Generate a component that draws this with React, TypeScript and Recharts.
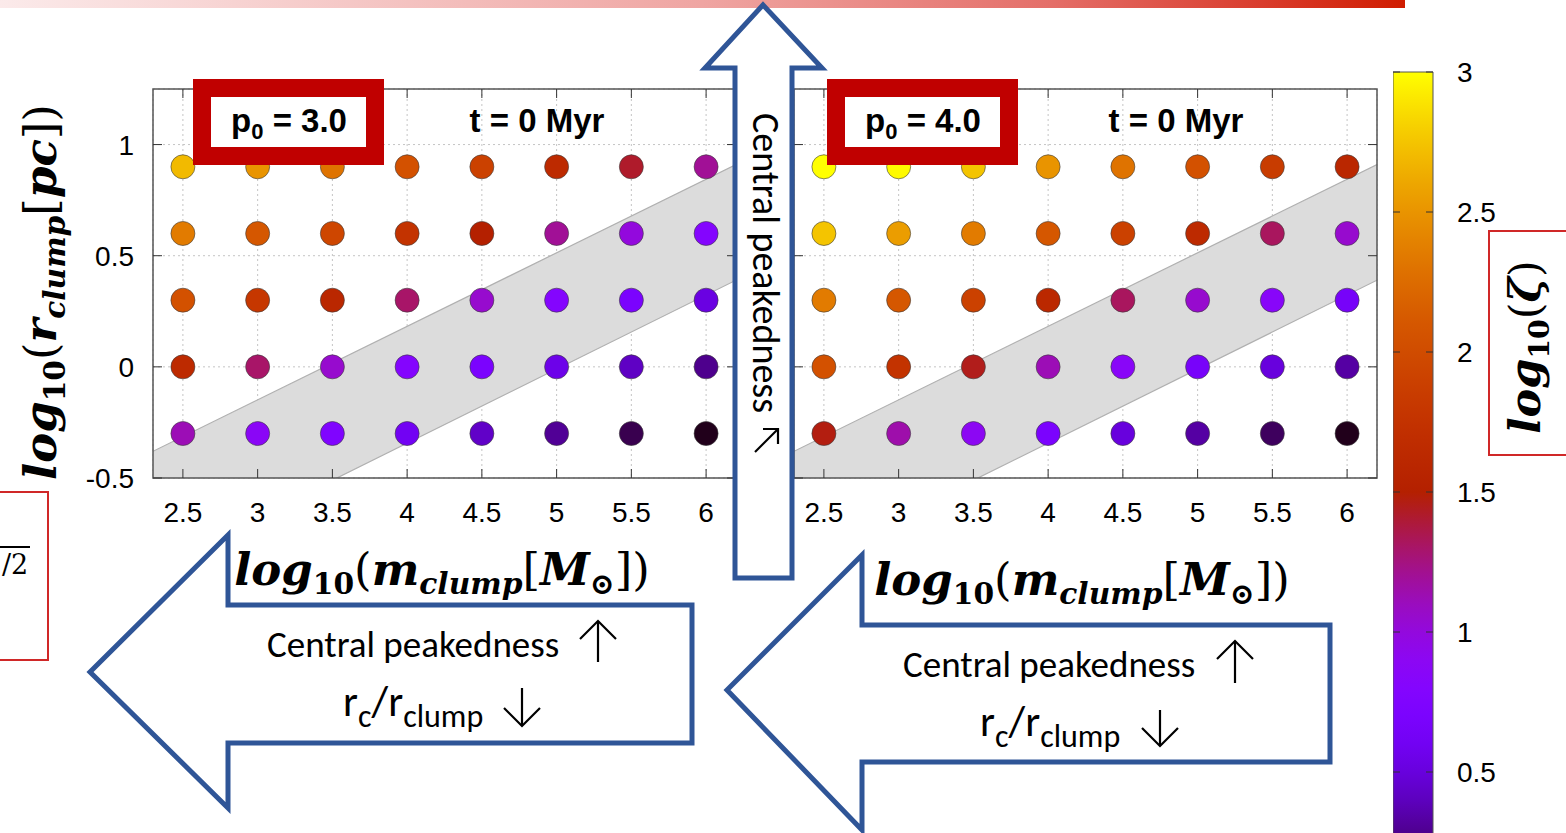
import React from "react";
import {
  Area,
  Bar,
  BarChart,
  CartesianGrid,
  ComposedChart,
  ReferenceArea,
  Scatter,
  XAxis,
  YAxis,
} from "recharts";

// grid of models: log10(m_clump) columns, log10(r_clump) rows
const massTicks = [2.5, 3, 3.5, 4, 4.5, 5, 5.5, 6];
const radiusRows = [0.9, 0.6, 0.3, 0, -0.3];
const yTicks = [-0.5, 0, 0.5, 1];
const cbTicks = [0.5, 1, 1.5, 2, 2.5, 3];

// log10(zeta), rows top -> bottom, columns left -> right
const zetaP3 = [
  [2.7, 2.5, 2.3, 2.05, 1.9, 1.65, 1.42, 1.2],
  [2.35, 2.1, 1.95, 1.75, 1.5, 1.2, 1.0, 0.8],
  [2.05, 1.8, 1.6, 1.3, 1.05, 0.8, 0.7, 0.52],
  [1.65, 1.3, 1.05, 0.8, 0.7, 0.55, 0.42, 0.28],
  [1.12, 0.88, 0.76, 0.6, 0.43, 0.3, 0.15, 0.05],
];
const zetaP4 = [
  [3.0, 2.98, 2.75, 2.5, 2.3, 2.05, 1.85, 1.6],
  [2.75, 2.55, 2.35, 2.1, 1.9, 1.65, 1.32, 1.05],
  [2.35, 2.1, 1.9, 1.62, 1.32, 1.05, 0.85, 0.65],
  [2.05, 1.75, 1.45, 1.12, 0.86, 0.66, 0.5, 0.33],
  [1.47, 1.15, 0.9, 0.7, 0.5, 0.33, 0.18, 0.05],
];

// grey band (edges read at the two ends of the x range)
const bandX = [2.3, 6.2];
const bandLow = [-0.91, 0.39];
const bandHigh = [-0.38, 0.91];

const X_DOMAIN: [number, number] = [2.3, 6.2];
const Y_DOMAIN: [number, number] = [-0.5, 1.25];
const minorX = Array.from({ length: 40 }, (_, i) => +(2.3 + i * 0.1).toFixed(1));
const minorY = Array.from({ length: 18 }, (_, i) => +(-0.5 + i * 0.1).toFixed(1));

const PLOT_TOP = 89;
const PLOT_BOTTOM = 478;
const PLOT_LEFT = 153;
const PLOT_RIGHT = 736;

const TICK_FONT = '"Liberation Sans", Arial, sans-serif';
const MATH_FONT = '"DejaVu Serif", serif';
const SLIDE_FONT = 'Carlito, Lato, "Open Sans", sans-serif';
const BLUE = "#2f5597";

// gnuplot default palette (rgbformulae 7,5,15), cbrange [0, 3]
const palette = (v: number) => {
  const x = Math.min(1, Math.max(0, v / 3));
  const r = Math.sqrt(x);
  const g = x ** 3;
  const b = Math.max(0, Math.sin(2 * Math.PI * x));
  const h = (c: number) => Math.round(c * 255).toString(16).padStart(2, "0");
  return `#${h(r)}${h(g)}${h(b)}`;
};

const bandData = bandX.map((m, i) => ({ m, band: [bandLow[i], bandHigh[i]] }));

const toPoints = (zeta: number[][]) =>
  radiusRows.flatMap((r, i) => massTicks.map((m, j) => ({ m, r, z: zeta[i][j] })));

const fmt = (v: number) => String(v);

function Panel({ zeta, left, showY }: { zeta: number[][]; left: number; showY: boolean }) {
  const XTick = (p: any) => (
    <g>
      <line x1={p.x} x2={p.x} y1={PLOT_BOTTOM} y2={PLOT_BOTTOM - 9} stroke="#333" />
      <line x1={p.x} x2={p.x} y1={PLOT_TOP} y2={PLOT_TOP + 9} stroke="#333" />
      <text x={p.x} y={PLOT_BOTTOM + 44} textAnchor="middle" fontSize={28} fontFamily={TICK_FONT} fill="#000">
        {fmt(p.payload.value)}
      </text>
    </g>
  );
  const YTick = (p: any) => (
    <g>
      <line x1={PLOT_LEFT} x2={PLOT_LEFT + 9} y1={p.y} y2={p.y} stroke="#333" />
      <line x1={PLOT_RIGHT} x2={PLOT_RIGHT - 9} y1={p.y} y2={p.y} stroke="#333" />
      {showY && (
        <text x={134} y={p.y + 10} textAnchor="end" fontSize={28} fontFamily={TICK_FONT} fill="#000">
          {fmt(p.payload.value)}
        </text>
      )}
    </g>
  );
  const MinorX = (p: any) => (
    <g>
      <line x1={p.x} x2={p.x} y1={PLOT_BOTTOM} y2={PLOT_BOTTOM - 5} stroke="#555" />
      <line x1={p.x} x2={p.x} y1={PLOT_TOP} y2={PLOT_TOP + 5} stroke="#555" />
    </g>
  );
  const MinorY = (p: any) => (
    <g>
      <line x1={PLOT_LEFT} x2={PLOT_LEFT + 5} y1={p.y} y2={p.y} stroke="#555" />
      <line x1={PLOT_RIGHT} x2={PLOT_RIGHT - 5} y1={p.y} y2={p.y} stroke="#555" />
    </g>
  );

  return (
    <div style={{ position: "absolute", left, top: 0 }}>
      <ComposedChart
        width={760}
        height={560}
        data={bandData}
        margin={{ top: 89, right: 24, bottom: 32, left: 93 }}
      >
        <CartesianGrid stroke="#c4c4c4" strokeDasharray="2 3" />
        <XAxis
          dataKey="m"
          type="number"
          domain={X_DOMAIN}
          allowDataOverflow
          ticks={massTicks}
          interval={0}
          height={50}
          tickSize={0}
          tickMargin={0}
          axisLine={false}
          tick={XTick}
        />
        <XAxis
          xAxisId="minor"
          orientation="top"
          type="number"
          domain={X_DOMAIN}
          allowDataOverflow
          ticks={minorX}
          interval={0}
          height={0}
          tickSize={0}
          axisLine={false}
          tick={MinorX}
        />
        <YAxis
          dataKey="r"
          type="number"
          domain={Y_DOMAIN}
          allowDataOverflow
          ticks={yTicks}
          interval={0}
          width={60}
          tickSize={0}
          tickMargin={0}
          axisLine={false}
          tick={YTick}
        />
        <YAxis
          yAxisId="minor"
          orientation="right"
          type="number"
          domain={Y_DOMAIN}
          allowDataOverflow
          ticks={minorY}
          interval={0}
          width={0}
          tickSize={0}
          axisLine={false}
          tick={MinorY}
        />
        <Area
          dataKey="band"
          type="linear"
          stroke="#b0b0b0"
          strokeWidth={1.2}
          fill="#dcdcdc"
          fillOpacity={1}
          dot={false}
          activeDot={false}
          isAnimationActive={false}
        />
        <ReferenceArea
          x1={X_DOMAIN[0]}
          x2={X_DOMAIN[1]}
          y1={Y_DOMAIN[0]}
          y2={Y_DOMAIN[1]}
          fill="none"
          stroke="#555"
          strokeWidth={1.5}
          ifOverflow="visible"
        />
        <Scatter
          data={toPoints(zeta)}
          isAnimationActive={false}
          shape={(p: any) => (
            <circle cx={p.cx} cy={p.cy} r={12} fill={palette(p.payload.z)} stroke="#3a3a3a" strokeWidth={0.6} />
          )}
        />
      </ComposedChart>
    </div>
  );
}

function ColorBar() {
  const stops = Array.from({ length: 31 }, (_, i) => (
    <stop key={i} offset={`${(i / 30) * 100}%`} stopColor={palette(3 * (1 - i / 30))} />
  ));
  const CbTick = (p: any) => (
    <g>
      <line x1={0} x2={7} y1={p.y} y2={p.y} stroke="#333" />
      <line x1={33} x2={40} y1={p.y} y2={p.y} stroke="#333" />
      <text x={64} y={p.y + 10} textAnchor="start" fontSize={28} fontFamily={TICK_FONT} fill="#000">
        {fmt(p.payload.value)}
      </text>
    </g>
  );
  return (
    <div style={{ position: "absolute", left: 1393, top: 0 }}>
      <BarChart
        width={110}
        height={912}
        data={[{ name: "cb", v: 3 }]}
        margin={{ top: 72, right: 0, bottom: 0, left: 0 }}
        barCategoryGap={0}
      >
        <defs>
          <linearGradient id="cbGrad" x1="0" y1="0" x2="0" y2="1">
            {stops}
          </linearGradient>
        </defs>
        <XAxis dataKey="name" hide />
        <YAxis
          orientation="right"
          type="number"
          domain={[0, 3]}
          ticks={cbTicks}
          interval={0}
          width={70}
          tickSize={0}
          axisLine={false}
          tick={CbTick}
        />
        <Bar dataKey="v" fill="url(#cbGrad)" stroke="#555" strokeWidth={1} isAnimationActive={false} />
      </BarChart>
    </div>
  );
}

function MathLabel({ main, sub, bracket, bracketSub }: { main: string; sub: string; bracket: string; bracketSub?: string }) {
  const s = 0.66;
  return (
    <>
      <tspan fontStyle="italic">log</tspan>
      <tspan fontSize={`${s}em`} dy="0.3em">10</tspan>
      <tspan dy="-0.2em" fontWeight="normal">(</tspan>
      <tspan fontStyle="italic">{main}</tspan>
      {sub && (
        <tspan fontStyle="italic" fontSize={`${s}em`} dy="0.3em">
          {sub}
        </tspan>
      )}
      {bracket ? (
        <>
          <tspan dy={sub ? "-0.2em" : 0} fontWeight="normal">[</tspan>
          <tspan fontStyle="italic">{bracket}</tspan>
          {bracketSub && (
            <tspan fontSize={`${s}em`} dy="0.3em">
              {bracketSub}
            </tspan>
          )}
          <tspan dy={bracketSub ? "-0.2em" : 0} fontWeight="normal">])</tspan>
        </>
      ) : (
        <tspan fontWeight="normal">)</tspan>
      )}
    </>
  );
}

function Overlay() {
  const arrowUp = "M763,5 L822,68 L792,68 L792,578 L735,578 L735,68 L705,68 Z";
  const arrowLeft = "M90,672 L228,535 L228,605 L692,605 L692,743 L228,743 L228,808 Z";
  const arrowRight = "M727,690 L862,555 L862,625 L1330,625 L1330,762 L862,762 L862,830 Z";
  const upGlyph = (cx: number, top: number, bottom: number) => (
    <g stroke="#000" strokeWidth={2.2} fill="none">
      <line x1={cx} x2={cx} y1={top} y2={bottom} />
      <polyline points={`${cx - 18},${top + 18} ${cx},${top} ${cx + 18},${top + 18}`} />
    </g>
  );
  const downGlyph = (cx: number, top: number, bottom: number) => (
    <g stroke="#000" strokeWidth={2.2} fill="none">
      <line x1={cx} x2={cx} y1={top} y2={bottom} />
      <polyline points={`${cx - 18},${bottom - 18} ${cx},${bottom} ${cx + 18},${bottom - 18}`} />
    </g>
  );
  const ratio = (x: number, y: number) => (
    <text x={x} y={y} fontFamily={SLIDE_FONT} fontSize={43} fill="#000">
      r<tspan fontSize={32} dy={11}>c</tspan>
      <tspan dy={-11}>/r</tspan>
      <tspan fontSize={32} dy={11}>clump</tspan>
    </text>
  );
  const paramBox = (x: number, p0: string, tx: number) => (
    <g>
      <rect x={x} y={79} width={191} height={86} fill="#c00000" />
      <rect x={x + 18} y={97} width={155} height={50} fill="#fff" />
      <text x={x + 96} y={132} textAnchor="middle" fontFamily='"Liberation Sans Narrow", "Liberation Sans", sans-serif' fontWeight="bold" fontSize={33} fill="#000">
        p<tspan fontSize={22} dy={7}>0</tspan>
        <tspan dy={-7}> = {p0}</tspan>
      </text>
      <text x={tx} y={132} textAnchor="middle" fontFamily='"Liberation Sans Narrow", "Liberation Sans", sans-serif' fontWeight="bold" fontSize={33} fill="#000">
        t = 0 Myr
      </text>
    </g>
  );

  return (
    <svg width={1566} height={833} style={{ position: "absolute", left: 0, top: 0 }}>
      <defs>
        <linearGradient id="banner" x1="0" y1="0" x2="1" y2="0">
          <stop offset="0%" stopColor="#fbeaea" />
          <stop offset="50%" stopColor="#efa5a2" />
          <stop offset="75%" stopColor="#e46e68" />
          <stop offset="90%" stopColor="#d93c2c" />
          <stop offset="100%" stopColor="#d01c00" />
        </linearGradient>
      </defs>
      <rect x={0} y={0} width={1405} height={8} fill="url(#banner)" />

      {paramBox(193, "3.0", 537)}
      {paramBox(827, "4.0", 1176)}

      {/* axis titles */}
      <text
        transform="translate(56,292) rotate(-90)"
        textAnchor="middle"
        fontFamily={MATH_FONT}
        fontWeight="bold"
        fontSize={45}
        fill="#000"
      >
        <MathLabel main="r" sub="clump" bracket="pc" />
      </text>
      <text x={442} y={585} textAnchor="middle" fontFamily={MATH_FONT} fontWeight="bold" fontSize={45} fill="#000">
        <MathLabel main="m" sub="clump" bracket="M" bracketSub="⊙" />
      </text>
      <text x={1082} y={595} textAnchor="middle" fontFamily={MATH_FONT} fontWeight="bold" fontSize={45} fill="#000">
        <MathLabel main="m" sub="clump" bracket="M" bracketSub="⊙" />
      </text>

      {/* colour bar title */}
      <rect x={1489} y={231} width={100} height={224} fill="none" stroke="#d02828" strokeWidth={2} />
      <text
        transform="translate(1540,347) rotate(-90)"
        textAnchor="middle"
        fontFamily={MATH_FONT}
        fontWeight="bold"
        fontSize={43}
        fill="#000"
      >
        <MathLabel main="ζ" sub="" bracket="" />
      </text>

      {/* partial box at the left edge */}
      <rect x={-10} y={492} width={58} height={168} fill="none" stroke="#d02828" strokeWidth={2} />
      <line x1={0} x2={30} y1={547} y2={547} stroke="#000" strokeWidth={2} />
      <text x={2} y={574} fontFamily={MATH_FONT} fontSize={27} fill="#000">/2</text>

      {/* arrows */}
      <path d={arrowUp} fill="#fff" stroke={BLUE} strokeWidth={5} strokeLinejoin="miter" />
      <path d={arrowLeft} fill="#fff" stroke={BLUE} strokeWidth={5} strokeLinejoin="miter" />
      <path d={arrowRight} fill="#fff" stroke={BLUE} strokeWidth={5} strokeLinejoin="miter" />

      <text transform="translate(753,113) rotate(90)" fontFamily={SLIDE_FONT} fontSize={38} fill="#000">
        Central peakedness
      </text>
      <g stroke="#000" strokeWidth={2.2} fill="none">
        <line x1={755} y1={452} x2={778} y2={429} />
        <polyline points="763,429 778,429 778,444" />
      </g>

      <text x={267} y={657} fontFamily={SLIDE_FONT} fontSize={37} fill="#000">
        Central peakedness
      </text>
      {upGlyph(598, 621, 662)}
      {ratio(343, 716)}
      {downGlyph(522, 688, 726)}

      <text x={903} y={677} fontFamily={SLIDE_FONT} fontSize={37} fill="#000">
        Central peakedness
      </text>
      {upGlyph(1235, 641, 683)}
      {ratio(980, 736)}
      {downGlyph(1160, 710, 746)}
    </svg>
  );
}

export default function App() {
  return (
    <div
      style={{
        position: "absolute",
        left: 0,
        top: 0,
        width: 1566,
        height: 833,
        overflow: "hidden",
        background: "#fff",
      }}
    >
      <Panel zeta={zetaP3} left={0} showY />
      <Panel zeta={zetaP4} left={641} showY={false} />
      <ColorBar />
      <Overlay />
    </div>
  );
}
